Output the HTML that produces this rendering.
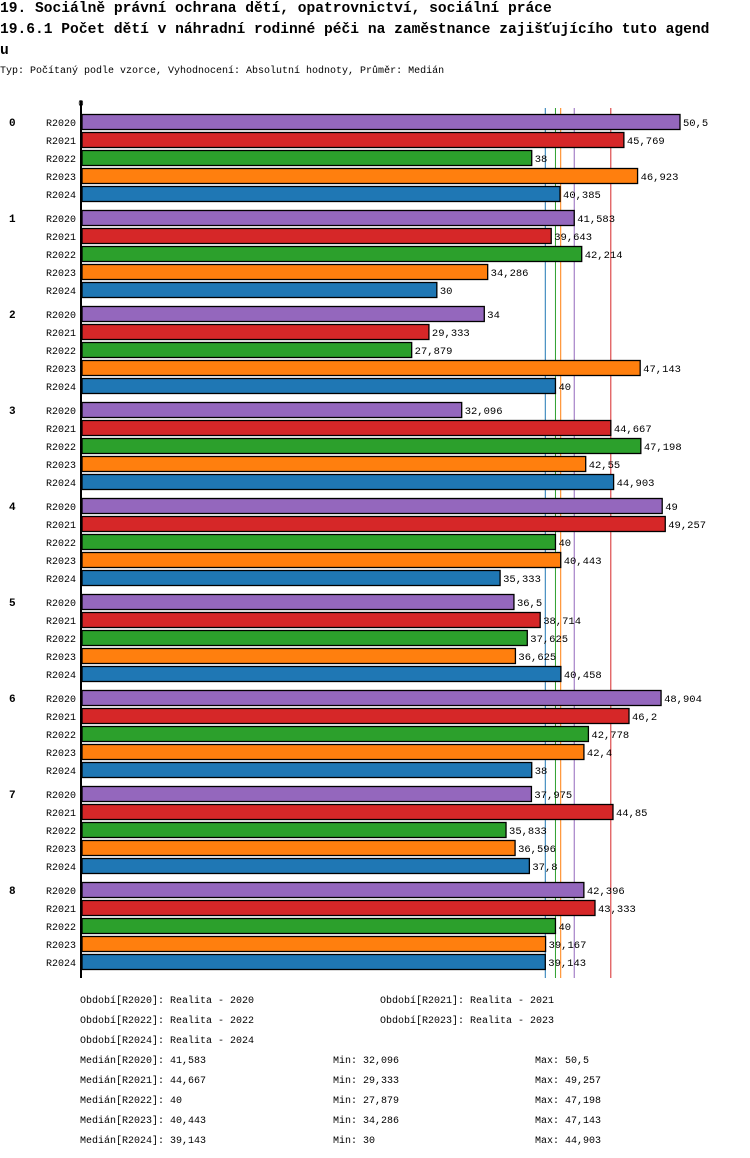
<!DOCTYPE html>
<html><head><meta charset="utf-8"><style>
body{margin:0;background:#fff;width:750px;height:1158px;overflow:hidden;font-family:"Liberation Mono","DejaVu Sans Mono",monospace;}
.t{position:absolute;white-space:nowrap;color:#000}
</style></head><body>
<div class="t" style="left:0;top:-1px;font-size:14.6px;font-weight:bold;line-height:21px">19. Sociálně právní ochrana dětí, opatrovnictví, sociální práce</div>
<div class="t" style="left:0;top:20px;font-size:14.6px;font-weight:bold;line-height:21px">19.6.1 Počet dětí v náhradní rodinné péči na zaměstnance zajišťujícího tuto agend<br>u</div>
<div class="t" style="left:0;top:66px;font-size:10px">Typ: Počítaný podle vzorce, Vyhodnocení: Absolutní hodnoty, Průměr: Medián</div>
<svg id="chart" width="750" height="1158" style="position:absolute;left:0;top:0" font-family="Liberation Mono, monospace"></svg>
<script>
const categories=["0","1","2","3","4","5","6","7","8"];
const seriesNames=["R2020","R2021","R2022","R2023","R2024"];
const colors=["#9467bd","#d62728","#2ca02c","#ff7f0e","#1f77b4"];
const v2020=[50.5,41.583,34,32.096,49,36.5,48.904,37.975,42.396];
const v2021=[45.769,39.643,29.333,44.667,49.257,38.714,46.2,44.85,43.333];
const v2022=[38,42.214,27.879,47.198,40,37.625,42.778,35.833,40];
const v2023=[46.923,34.286,47.143,42.55,40.443,36.625,42.4,36.596,39.167];
const v2024=[40.385,30,40,44.903,35.333,40.458,38,37.8,39.143];
const medians=[41.583,44.667,40,40.443,39.143];
const mins=[32.096,29.333,27.879,34.286,30];
const maxs=[50.5,49.257,47.198,47.143,44.903];
const series=[v2020,v2021,v2022,v2023,v2024];
const NS="http://www.w3.org/2000/svg";
const svg=document.getElementById('chart');
const x0=81, k=599/50.5;
const xs=v=>x0+v*k;
const yb=(g,s)=>114+g*96+s*18;
const fmt=v=>String(v).replace('.',',');
function mk(t,a){const e=document.createElementNS(NS,t);for(const n in a)e.setAttribute(n,a[n]);svg.appendChild(e);return e;}
function txt(x,y,s,size,anchor,bold){const e=mk('text',{x:x,y:y,'font-size':size,'text-anchor':anchor||'start'});if(bold)e.setAttribute('font-weight','bold');e.textContent=s;return e;}
medians.forEach((m,s)=>{
  const ln=mk('line',{x1:xs(m),x2:xs(m),y1:108,y2:978,stroke:colors[s],'stroke-width':1});
  
  
});
categories.forEach((c,g)=>{
  const cl=txt(9,yb(g,0)+12,c,11,'start',true);
  
  
  series.forEach((arr,s)=>{
    const y=yb(g,s);
    const l=txt(76,y+12,seriesNames[s],10,'end');
    
    
    const r=mk('rect',{x:82,y:y+0.5,width:xs(arr[g])-82,height:15,fill:colors[s],stroke:'#000','stroke-width':1.3});
    
    
    const vl=txt(xs(arr[g])+3,y+12,fmt(arr[g]),10.5);
    
    
  });
});
const ax=mk('line',{x1:81,x2:81,y1:101,y2:978,stroke:'#000','stroke-width':2});


const z=txt(81,106,'0',9,'middle');


const leg=[["Období[R2020]: Realita - 2020",80,1003],["Období[R2021]: Realita - 2021",380,1003],["Období[R2022]: Realita - 2022",80,1023],["Období[R2023]: Realita - 2023",380,1023],["Období[R2024]: Realita - 2024",80,1043]];
leg.forEach(l=>{const e=txt(l[1],l[2],l[0],10);

});
seriesNames.forEach((n,s)=>{
  const y=1063+s*20;
  const a=txt(80,y,'Medián['+n+']: '+fmt(medians[s]),10);
  
  
  const b=txt(333,y,'Min: '+fmt(mins[s]),10);
  
  
  const cc=txt(535,y,'Max: '+fmt(maxs[s]),10);
  
  
});
</script>
</body></html>
